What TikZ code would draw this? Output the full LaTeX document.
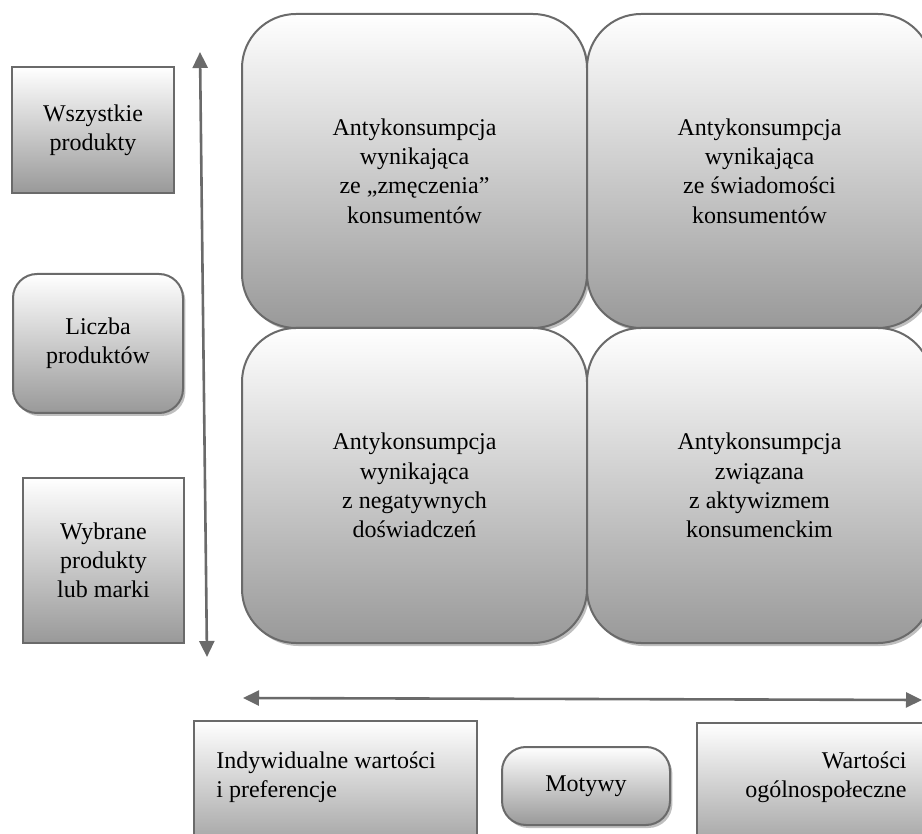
\documentclass[tikz,border=0pt]{standalone}
\usepackage{fontspec}
\setmainfont{Liberation Serif}
\usetikzlibrary{arrows.meta,shadows}
\definecolor{edge}{HTML}{6A6A6A}
\tikzset{
  base/.style={draw=edge, line width=1pt, top color=white, bottom color=black!40, shading angle=0,
    inner sep=0pt, align=center, font=\fontsize{12pt}{14.6pt}\selectfont},
  sqbox/.style={base},
  rbox/.style={base, rounded corners=12pt,
    drop shadow={shadow xshift=1.2pt, shadow yshift=-1.5pt, fill=black!25, opacity=1}},
  bigbox/.style={base, rounded corners=27pt, minimum width=172.5pt,
    drop shadow={shadow xshift=1.2pt, shadow yshift=-1.5pt, fill=black!25, opacity=1}},
  txt/.style={inner sep=0pt, font=\fontsize{12pt}{14.6pt}\selectfont},
  axis/.style={draw=edge, line width=1.3pt, {Triangle[length=8pt,width=7.5pt]}-{Triangle[length=8pt,width=7.5pt]}}
}
\begin{document}
\begin{tikzpicture}[x=0.5pt,y=-0.5pt]
\useasboundingbox (0,0) rectangle (922,834);
\clip (0,0) rectangle (922,834);
% left column
\node[sqbox, minimum width=81pt, minimum height=63pt] (all) at (93,130) {Wszystkie\\produkty};
\node[rbox, minimum width=85pt, minimum height=69.5pt] (num) at (98,343.5) {Liczba\\produktów};
\node[sqbox, minimum width=80.5pt, minimum height=82.5pt] (sel) at (103.5,560.5) {Wybrane\\produkty\\lub marki};
% vertical axis
\coordinate (vtop) at (200,52);
\coordinate (vbot) at (207,657);
\draw[axis] (vbot) -- (vtop);
% big boxes
\node[bigbox, minimum height=157pt] (tl) at (414.5,171) {Antykonsumpcja\\wynikająca\\ze „zmęczenia”\\konsumentów};
\node[bigbox, minimum height=157pt] (tr) at (759.5,171) {Antykonsumpcja\\wynikająca\\ze świadomości\\konsumentów};
\node[bigbox, minimum height=157.5pt] (bl) at (414.5,485.5) {Antykonsumpcja\\wynikająca\\z negatywnych\\doświadczeń};
\node[bigbox, minimum height=157.5pt] (br) at (759.5,485.5) {Antykonsumpcja\\związana\\z aktywizmem\\konsumenckim};
% horizontal axis
\coordinate (hl) at (243,698);
\coordinate (hr) at (922,700);
\draw[axis] (hl) -- (hr);
% bottom row
\node[sqbox, minimum width=141.5pt, minimum height=69.5pt] (ind) at (335.5,790.5) {};
\node[txt, anchor=west, align=left] (indt) at (216,777) {Indywidualne wartości\\i preferencje};
\node[rbox, minimum width=84pt, minimum height=39pt] (mot) at (586,786) {Motywy};
\node[sqbox, minimum width=121.5pt, minimum height=68.5pt] (war) at (818.5,791.5) {};
\node[txt, anchor=east, align=right] (wart) at (907,777) {Wartości\\ogólnospołeczne};
\end{tikzpicture}
\end{document}
